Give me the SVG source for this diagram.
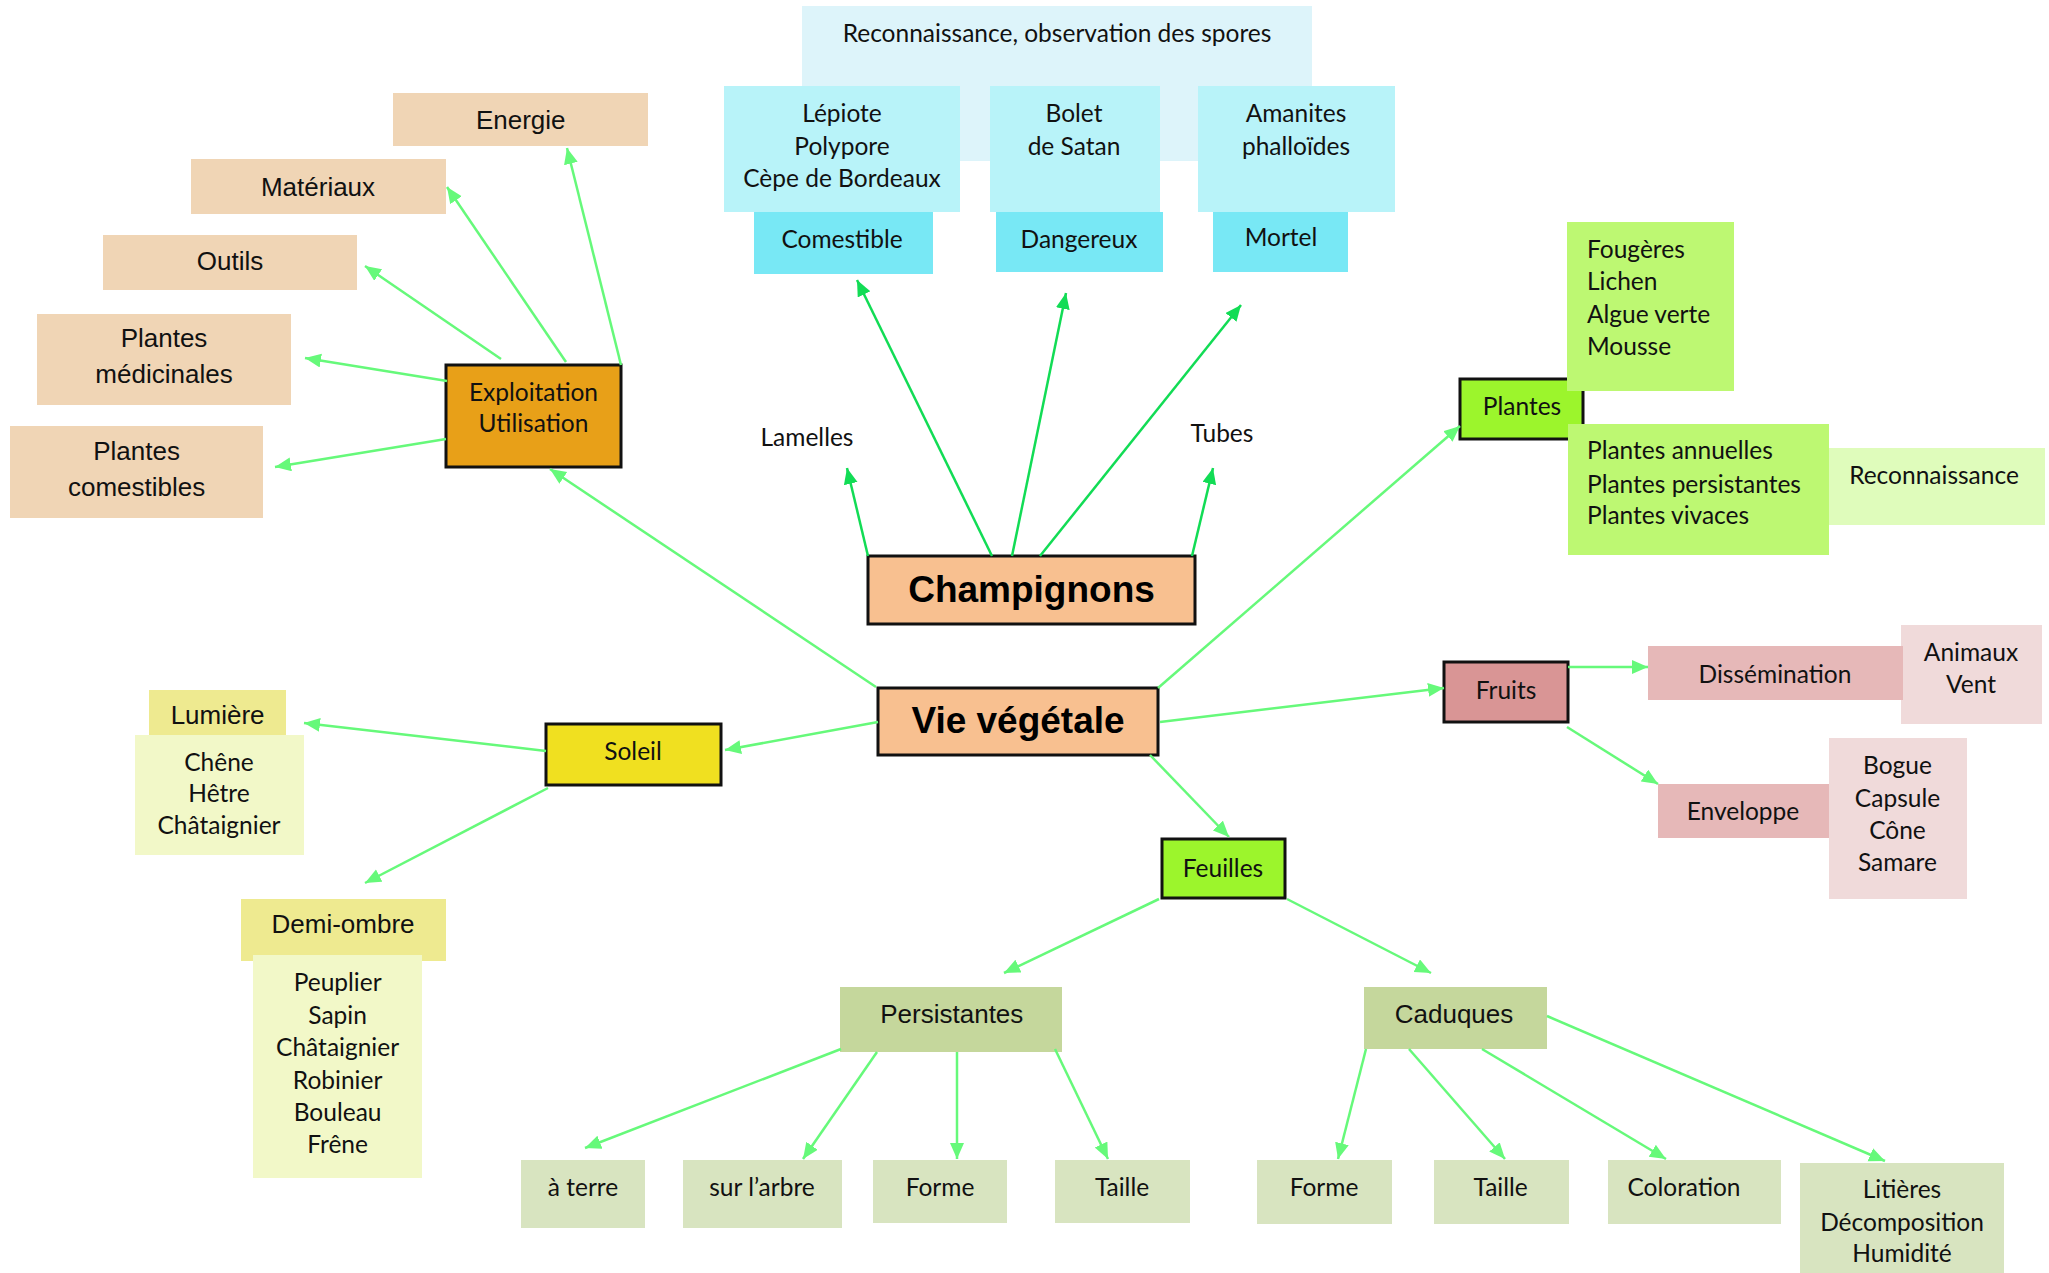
<svg xmlns="http://www.w3.org/2000/svg" width="2049" height="1273" viewBox="0 0 2049 1273">
<style>
.c{font-family:Lato,"Open Sans","DejaVu Sans",sans-serif;font-size:24.5px;fill:#111;text-anchor:middle}
.l{font-family:Lato,"Open Sans","DejaVu Sans",sans-serif;font-size:24.5px;fill:#111;text-anchor:start}
.a{font-family:"Liberation Sans",Arial,sans-serif;font-size:26px;fill:#111;text-anchor:middle}
.b{font-family:"Liberation Sans",Arial,sans-serif;font-size:37px;font-weight:bold;fill:#000;text-anchor:middle}
.k{stroke:#111;stroke-width:3}
.lg{stroke:#66f97a;stroke-width:2.5;fill:none}
.dg{stroke:#12dc55;stroke-width:2.5;fill:none}
</style>
<defs>
<marker id="ml" markerUnits="userSpaceOnUse" markerWidth="17" markerHeight="15" refX="16" refY="7" orient="auto"><path d="M0,0 L16,7 L0,14 z" fill="#66f97a"/></marker>
<marker id="md" markerUnits="userSpaceOnUse" markerWidth="17" markerHeight="15" refX="16" refY="7" orient="auto"><path d="M0,0 L16,7 L0,14 z" fill="#12dc55"/></marker>
</defs>
<rect width="2049" height="1273" fill="#fff"/>

<g id="n-spores"><rect x="802" y="6" width="510" height="155" fill="#ddf4fa"/><text class="c" x="1057" y="42">Reconnaissance, observation des spores</text></g>
<g id="n-lepiote"><rect x="724" y="86" width="236" height="126" fill="#b8f3f9"/><text class="c" x="842" y="121.5">Lépiote</text><text class="c" x="842" y="155">Polypore</text><text class="c" x="842" y="187">Cèpe de Bordeaux</text></g>
<g id="n-bolet"><rect x="990" y="86" width="170" height="126" fill="#b8f3f9"/><text class="c" x="1074" y="121.5">Bolet</text><text class="c" x="1074" y="155">de Satan</text></g>
<g id="n-amanites"><rect x="1198" y="86" width="197" height="126" fill="#b8f3f9"/><text class="c" x="1296" y="121.5">Amanites</text><text class="c" x="1296" y="155">phalloïdes</text></g>
<g id="n-comestible"><rect x="754" y="212" width="179" height="62" fill="#78e8f5"/><text class="c" x="842" y="247.5">Comestible</text></g>
<g id="n-dangereux"><rect x="996" y="212" width="167" height="60" fill="#78e8f5"/><text class="c" x="1079" y="247.5">Dangereux</text></g>
<g id="n-mortel"><rect x="1213" y="212" width="135" height="60" fill="#78e8f5"/><text class="c" x="1281" y="245.5">Mortel</text></g>
<g id="n-lamelles"><text class="c" x="807" y="445.5">Lamelles</text></g>
<g id="n-tubes"><text class="c" x="1222" y="441.5">Tubes</text></g>
<g id="n-champignons"><rect class="k" x="868" y="556" width="327" height="68" fill="#f8c090"/><text class="b" x="1031.5" y="602">Champignons</text></g>
<g id="n-vie"><rect class="k" x="878" y="688" width="280" height="67" fill="#f8c090"/><text class="b" x="1018" y="733">Vie végétale</text></g>

<g id="n-exploitation"><rect class="k" x="446" y="365" width="175" height="102" fill="#e8a018"/><text class="c" x="533.5" y="400.5">Exploitation</text><text class="c" x="533.5" y="432">Utilisation</text></g>
<g id="n-energie"><rect x="393" y="93" width="255" height="53" fill="#f0d5b5"/><text class="a" x="520.7" y="129">Energie</text></g>
<g id="n-materiaux"><rect x="191" y="159" width="255" height="55" fill="#f0d5b5"/><text class="a" x="318" y="196">Matériaux</text></g>
<g id="n-outils"><rect x="103" y="235" width="254" height="55" fill="#f0d5b5"/><text class="a" x="230" y="269.5">Outils</text></g>
<g id="n-medicinales"><rect x="37" y="314" width="254" height="91" fill="#f0d5b5"/><text class="a" x="164" y="346.5">Plantes</text><text class="a" x="164" y="383">médicinales</text></g>
<g id="n-comestibles"><rect x="10" y="426" width="253" height="92" fill="#f0d5b5"/><text class="a" x="136.6" y="460">Plantes</text><text class="a" x="136.6" y="495.5">comestibles</text></g>

<g id="n-soleil"><rect class="k" x="546" y="724" width="175" height="61" fill="#f0e020"/><text class="c" x="633" y="760">Soleil</text></g>
<g id="n-lumiere"><rect x="149" y="690" width="137" height="45" fill="#eeea90"/><text class="a" x="217.6" y="724">Lumière</text></g>
<g id="n-chene"><rect x="135" y="735" width="169" height="120" fill="#f2f8c8"/><text class="c" x="219" y="770.5">Chêne</text><text class="c" x="219" y="802">Hêtre</text><text class="c" x="219" y="834">Châtaignier</text></g>
<g id="n-demiombre"><rect x="241" y="899" width="205" height="62" fill="#eeea90"/><text class="a" x="343" y="933">Demi-ombre</text></g>
<g id="n-peuplier"><rect x="253" y="955" width="169" height="223" fill="#f2f8c8"/><text class="c" x="337.6" y="991">Peuplier</text><text class="c" x="337.6" y="1023.5">Sapin</text><text class="c" x="337.6" y="1055.5">Châtaignier</text><text class="c" x="337.6" y="1088.5">Robinier</text><text class="c" x="337.6" y="1121">Bouleau</text><text class="c" x="337.6" y="1153">Frêne</text></g>

<g id="n-plantes"><rect class="k" x="1460" y="379" width="123" height="60" fill="#9cf52c"/><text class="c" x="1522" y="415">Plantes</text></g>
<g id="n-fougeres"><rect x="1567" y="222" width="167" height="169" fill="#bdf872"/><text class="l" x="1587" y="257.5">Fougères</text><text class="l" x="1587" y="290">Lichen</text><text class="l" x="1587" y="323">Algue verte</text><text class="l" x="1587" y="355">Mousse</text></g>
<g id="n-annuelles"><rect x="1568" y="424" width="261" height="131" fill="#bdf872"/><text class="l" x="1587" y="459">Plantes annuelles</text><text class="l" x="1587" y="492.5">Plantes persistantes</text><text class="l" x="1587" y="524">Plantes vivaces</text></g>
<g id="n-reconnaissance"><rect x="1829" y="448" width="216" height="77" fill="#dffcbb"/><text class="c" x="1934" y="484">Reconnaissance</text></g>

<g id="n-fruits"><rect class="k" x="1444" y="662" width="124" height="60" fill="#d99595"/><text class="c" x="1506" y="698.5">Fruits</text></g>
<g id="n-animaux"><rect x="1901" y="625" width="141" height="99" fill="#f0dada"/><text class="c" x="1971" y="661">Animaux</text><text class="c" x="1971" y="692.5">Vent</text></g>
<g id="n-dissemination"><rect x="1648" y="646" width="255" height="54" fill="#e6b8b8"/><text class="c" x="1775" y="682.5">Dissémination</text></g>
<g id="n-enveloppe"><rect x="1658" y="784" width="171" height="54" fill="#e6b8b8"/><text class="c" x="1743" y="819.5">Enveloppe</text></g>
<g id="n-bogue"><rect x="1829" y="738" width="138" height="161" fill="#f0dada"/><text class="c" x="1897.5" y="774">Bogue</text><text class="c" x="1897.5" y="807">Capsule</text><text class="c" x="1897.5" y="838.5">Cône</text><text class="c" x="1897.5" y="871">Samare</text></g>

<g id="n-feuilles"><rect class="k" x="1162" y="839" width="123" height="59" fill="#9cf52c"/><text class="c" x="1223" y="876.5">Feuilles</text></g>
<g id="n-persistantes"><rect x="840" y="987" width="222" height="65" fill="#c5d79c"/><text class="a" x="951.8" y="1022.5">Persistantes</text></g>
<g id="n-caduques"><rect x="1364" y="987" width="183" height="62" fill="#c5d79c"/><text class="a" x="1454" y="1022.5">Caduques</text></g>
<g id="n-aterre"><rect x="521" y="1160" width="124" height="68" fill="#d8e4c0"/><text class="c" x="583" y="1196">à terre</text></g>
<g id="n-surlarbre"><rect x="683" y="1160" width="159" height="68" fill="#d8e4c0"/><text class="c" x="762" y="1196">sur l’arbre</text></g>
<g id="n-forme1"><rect x="873" y="1160" width="134" height="63" fill="#d8e4c0"/><text class="c" x="940" y="1196">Forme</text></g>
<g id="n-taille1"><rect x="1055" y="1160" width="135" height="63" fill="#d8e4c0"/><text class="c" x="1122" y="1196">Taille</text></g>
<g id="n-forme2"><rect x="1257" y="1160" width="135" height="64" fill="#d8e4c0"/><text class="c" x="1324" y="1196">Forme</text></g>
<g id="n-taille2"><rect x="1434" y="1160" width="135" height="64" fill="#d8e4c0"/><text class="c" x="1500.6" y="1196">Taille</text></g>
<g id="n-coloration"><rect x="1608" y="1160" width="173" height="64" fill="#d8e4c0"/><text class="c" x="1684" y="1196">Coloration</text></g>
<g id="n-litieres"><rect x="1800" y="1163" width="204" height="110" fill="#d8e4c0"/><text class="c" x="1902" y="1197.5">Litières</text><text class="c" x="1902" y="1231">Décomposition</text><text class="c" x="1902" y="1262">Humidité</text></g>

<g id="connectors">
<line class="dg" x1="868" y1="556" x2="847" y2="468" marker-end="url(#md)"/>
<line class="dg" x1="992" y1="556" x2="857" y2="280" marker-end="url(#md)"/>
<line class="dg" x1="1012" y1="556" x2="1066" y2="293" marker-end="url(#md)"/>
<line class="dg" x1="1040" y1="556" x2="1241" y2="305" marker-end="url(#md)"/>
<line class="dg" x1="1192" y1="556" x2="1213" y2="468" marker-end="url(#md)"/>

<line class="lg" x1="876" y1="687" x2="550" y2="469" marker-end="url(#ml)"/>
<line class="lg" x1="878" y1="722" x2="725" y2="750" marker-end="url(#ml)"/>
<line class="lg" x1="1158" y1="688" x2="1460" y2="426" marker-end="url(#ml)"/>
<line class="lg" x1="1160" y1="722" x2="1444" y2="688" marker-end="url(#ml)"/>
<line class="lg" x1="1150" y1="755" x2="1229" y2="837" marker-end="url(#ml)"/>

<line class="lg" x1="621" y1="365" x2="567" y2="148" marker-end="url(#ml)"/>
<line class="lg" x1="566" y1="362" x2="447" y2="187" marker-end="url(#ml)"/>
<line class="lg" x1="501" y1="359" x2="365" y2="266" marker-end="url(#ml)"/>
<line class="lg" x1="447" y1="381" x2="305" y2="358" marker-end="url(#ml)"/>
<line class="lg" x1="446" y1="439" x2="275" y2="467" marker-end="url(#ml)"/>

<line class="lg" x1="546" y1="751" x2="304" y2="723" marker-end="url(#ml)"/>
<line class="lg" x1="548" y1="788" x2="365" y2="883" marker-end="url(#ml)"/>

<line class="lg" x1="1568" y1="667" x2="1648" y2="667" marker-end="url(#ml)"/>
<line class="lg" x1="1567" y1="727" x2="1658" y2="784" marker-end="url(#ml)"/>

<line class="lg" x1="1159" y1="899" x2="1004" y2="973" marker-end="url(#ml)"/>
<line class="lg" x1="1287" y1="899" x2="1431" y2="973" marker-end="url(#ml)"/>

<line class="lg" x1="841" y1="1049" x2="585" y2="1148" marker-end="url(#ml)"/>
<line class="lg" x1="877" y1="1052" x2="803" y2="1159" marker-end="url(#ml)"/>
<line class="lg" x1="957" y1="1052" x2="957" y2="1159" marker-end="url(#ml)"/>
<line class="lg" x1="1055" y1="1049" x2="1108" y2="1159" marker-end="url(#ml)"/>

<line class="lg" x1="1366" y1="1049" x2="1338" y2="1159" marker-end="url(#ml)"/>
<line class="lg" x1="1409" y1="1049" x2="1505" y2="1159" marker-end="url(#ml)"/>
<line class="lg" x1="1482" y1="1049" x2="1666" y2="1159" marker-end="url(#ml)"/>
<line class="lg" x1="1547" y1="1016" x2="1885" y2="1161" marker-end="url(#ml)"/>
</g>
</svg>
